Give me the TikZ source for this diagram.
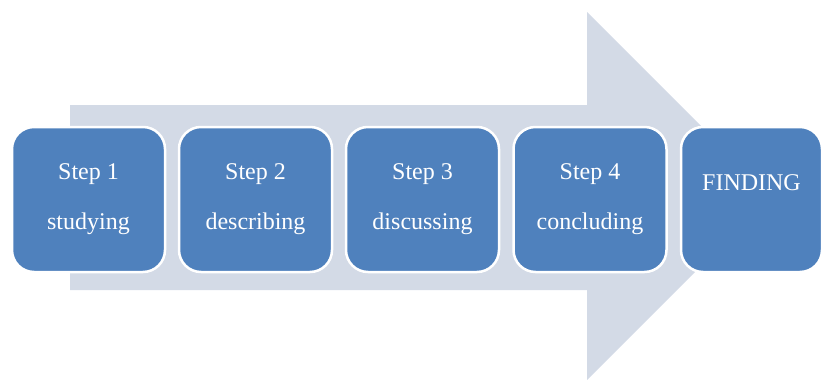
\documentclass[tikz,border=0pt]{standalone}
\usepackage{fontspec}
\setmainfont{Liberation Serif}
\definecolor{boxblue}{HTML}{4F81BD}
\definecolor{arrowgray}{HTML}{D3DAE6}
\begin{document}
\begin{tikzpicture}[x=1pt, y=-1pt, line join=round,
  stepbox/.style={draw=white, line width=2.5pt, fill=boxblue, rounded corners=22pt,
    minimum width=153pt, minimum height=145pt, text=white, align=center,
    font=\fontsize{24}{50}\selectfont}]
  \def\xl{70} \def\xh{587} \def\xt{771} \def\yc{196}
  \useasboundingbox (0,0) rectangle (823,380);
  \fill[arrowgray] (\xl,105) -- (\xh,105) -- (\xh,12) -- (\xt,\yc) -- (\xh,380) -- (\xh,290) -- (\xl,290) -- cycle;
  \foreach \i/\x/\w in {1/88.5/studying, 2/255.5/describing, 3/422.5/discussing, 4/590/concluding}
    \node[stepbox] (s\i) at (\x,199.5) {Step \i\\\w};
  \node[stepbox, minimum width=141pt, text depth=33pt] (find) at (751.5,199.5) {FINDING};
\end{tikzpicture}
\end{document}
